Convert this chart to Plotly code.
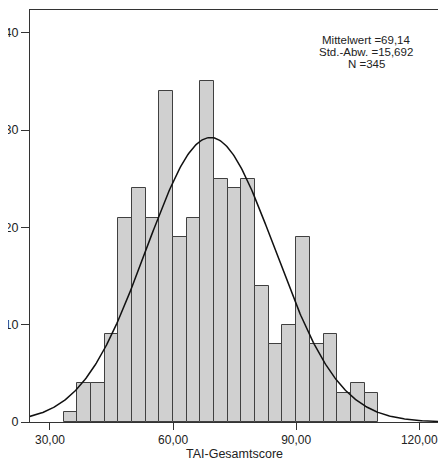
import numpy as np
import plotly.graph_objects as go

# Histogram data
bin_start = 100.0 / 3.0          # 33,33
bin_width = 10.0 / 3.0           # 3,33
counts = [1, 4, 4, 9, 21, 24, 21, 34, 19, 21, 35, 25, 24, 25,
          14, 8, 10, 19, 8, 9, 3, 4, 3]

# Stats shown on chart
mean_val = 69.14
sd_val = 15.692
n_val = 345
stat_lines = ["Mittelwert =69,14", "Std.-Abw. =15,692", "N =345"]

x_tickvals = [30, 60, 90, 120]
x_ticktext = ["30,00", "60,00", "90,00", "120,00"]
y_tickvals = [0, 10, 20, 30, 40]
y_ticktext = ["0", "10", "20", "30", "40"]
x_title = "TAI-Gesamtscore"

centers = [bin_start + bin_width * (i + 0.5) for i in range(len(counts))]

# normal fit curve from the stated statistics
xc = np.linspace(25.0, 125.0, 400)
yc = n_val * bin_width * np.exp(-0.5 * ((xc - mean_val) / sd_val) ** 2) / (sd_val * np.sqrt(2 * np.pi))

W, H = 438, 462
ML, MR, MT, MB = 30, 0, 10, 40
PW, PH = W - ML - MR, H - MT - MB

def px_x(px):
    return (px - ML) / PW

def px_y(py):
    return (H - MB - py) / PH

fig = go.Figure()
fig.add_trace(go.Bar(
    x=centers, y=counts, width=bin_width,
    marker=dict(color="#d0d0d0", line=dict(color="#404040", width=1)),
    showlegend=False, hoverinfo="skip",
))
fig.add_trace(go.Scatter(
    x=xc, y=yc, mode="lines",
    line=dict(color="#111111", width=1.5),
    showlegend=False, hoverinfo="skip",
))

ann_y = [40, 52, 63.5]
for txt, yy in zip(stat_lines, ann_y):
    fig.add_annotation(text=txt, x=px_x(366), y=px_y(yy), xref="paper", yref="paper",
                       xanchor="center", yanchor="middle", showarrow=False,
                       font=dict(family="Liberation Sans, Arial", size=11.5, color="#222"))

# axis title as annotation for exact placement
fig.add_annotation(text=x_title, x=0.5, y=px_y(454), xref="paper", yref="paper",
                   xanchor="center", yanchor="middle", showarrow=False,
                   font=dict(family="Liberation Sans, Arial", size=12.5, color="#222"))

fig.update_layout(
    width=W, height=H,
    margin=dict(l=ML, r=MR, t=MT, b=MB, autoexpand=False),
    paper_bgcolor="white", plot_bgcolor="white",
    bargap=0,
    font=dict(family="Liberation Sans, Arial", size=12, color="#222"),
    xaxis=dict(
        range=[25.13, 124.57], tickvals=x_tickvals, ticktext=x_ticktext,
        showgrid=False, zeroline=False, showline=True, linecolor="#333", linewidth=1,
        mirror=True, ticks="outside", ticklen=7, tickcolor="#333", automargin=False,
        tickfont=dict(size=12),
    ),
    yaxis=dict(
        range=[0, 42.34], tickvals=y_tickvals, ticktext=y_ticktext,
        showgrid=False, zeroline=False, showline=True, linecolor="#333", linewidth=1,
        ticks="outside", ticklen=8, tickcolor="#333", automargin=False,
        tickfont=dict(size=12.5),
    ),
    shapes=[dict(type="rect", xref="paper", yref="paper", layer="above",
                 x0=px_x(-5), x1=px_x(8), y0=-0.2, y1=1.1,
                 fillcolor="white", line=dict(width=0))],
)

fig.write_html("out.html", config={"displayModeBar": False},
               post_script="document.body.style.margin='0';")
